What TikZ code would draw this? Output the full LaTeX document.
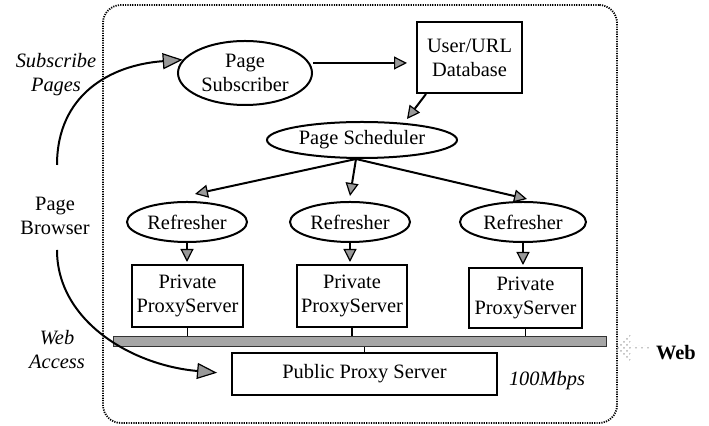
\documentclass[tikz,border=0pt]{standalone}
\usepackage{fontspec}
\setmainfont{Liberation Serif}
\usetikzlibrary{shapes.geometric,shapes.arrows,arrows.meta,calc,patterns}
\begin{document}
\begin{tikzpicture}[x=0.5pt,y=-0.5pt,
 font=\fontsize{10.2}{12}\selectfont,
 every node/.style={align=center},
 oval/.style={draw,ellipse,line width=1pt,inner sep=0pt},
 box/.style={draw,rectangle,line width=1pt,inner sep=0pt},
 arr/.style={line width=1pt,-{Triangle[length=6.5pt,width=6.5pt,fill=gray!80,line width=0.6pt]}},
 bigarr/.style={line width=1pt,-{Triangle[length=10pt,width=8pt,fill=gray!80,line width=0.6pt]}},
 lbl/.style={font=\fontsize{10.2}{12}\selectfont\itshape},
 link/.style={line width=0.8pt},
]
\useasboundingbox (0,0) rectangle (709,426);

\node[draw,dash pattern=on 0.6pt off 0.6pt,line width=0.9pt,rounded corners=9pt,
      minimum width=257pt,minimum height=209pt] (frame) at (360,214) {};

\node[oval,minimum width=67pt,minimum height=32pt] (sub) at (245,73) {Page\\Subscriber};
\node[box,minimum width=52.5pt,minimum height=35.5pt] (db) at (469.5,57.5) {User/URL\\Database};
\node[oval,minimum width=95pt,minimum height=18pt] (sched) at (362,140) {Page Scheduler};
\node[oval,minimum width=60pt,minimum height=20pt] (r1) at (187,222) {Refresher};
\node[oval,minimum width=60pt,minimum height=20pt] (r2) at (350,222) {Refresher};
\node[oval,minimum width=63pt,minimum height=20pt] (r3) at (523,222) {Refresher};

\node[box,minimum width=55.5pt,minimum height=31pt] (p1) at (187.5,296) {Private\\ProxyServer};
\node[box,minimum width=55pt,minimum height=31pt] (p2) at (352,296) {Private\\ProxyServer};
\node[box,minimum width=56.5pt,minimum height=30pt] (p3) at (525.5,298) {Private\\ProxyServer};

\node[draw=black!80,fill=gray!70,line width=0.5pt,minimum width=246.5pt,minimum height=5pt,inner sep=0pt] (bus) at (359.5,342) {};
\node[box,minimum width=132.5pt,minimum height=21pt] (pub) at (364.5,374) {Public Proxy Server};

\node[lbl] (subl) at (56,75) {Subscribe\\Pages};
\node (brow) at (55,216) {Page\\Browser};
\node[lbl] (webl) at (57,350) {Web\\Access};
\node[lbl] (mbps) at (547,381) {100Mbps};
\node[font=\fontsize{10.2}{12}\selectfont\bfseries] (web) at (676,353) {Web};
\node[single arrow,shape border rotate=180,pattern=crosshatch dots,pattern color=gray!60,
      minimum height=18pt,minimum width=16pt,single arrow head extend=2pt,inner sep=0pt] (cloud) at (633,347) {};

\coordinate (bt) at (57,165);
\coordinate (bb) at (57,250);

\draw[bigarr] (bt) .. controls (57,95) and (110,65) .. (sub.168);
\draw[bigarr,shorten >=7pt] (bb) .. controls (57,320) and (130,365) .. (pub.west);

\draw[arr,shorten >=4.5pt] ([yshift=5pt]sub.east) -- ([yshift=-2.75pt]db.west);
\draw[arr] ([xshift=-21.75pt]db.south) -- ([xshift=22.5pt,yshift=1pt]sched.north);
\draw[arr] ([xshift=-3pt]sched.south) -- ([xshift=4pt,yshift=3.5pt]r1.north);
\draw[arr] ([xshift=-3pt]sched.south) -- ([yshift=2.5pt]r2.north);
\draw[arr] ([xshift=-3pt]sched.south) -- ([xshift=2pt,yshift=1pt]r3.north);

\foreach \r/\p in {r1/p1,r2/p2,r3/p3}{
  \draw[arr,shorten >=1pt] (\r.south) -- (\r.south |- \p.north);
  \draw[link] (\p.south) -- (\p.south |- bus.north);
}
\draw[link] (pub.north) -- (pub.north |- bus.south);
\end{tikzpicture}
\end{document}
